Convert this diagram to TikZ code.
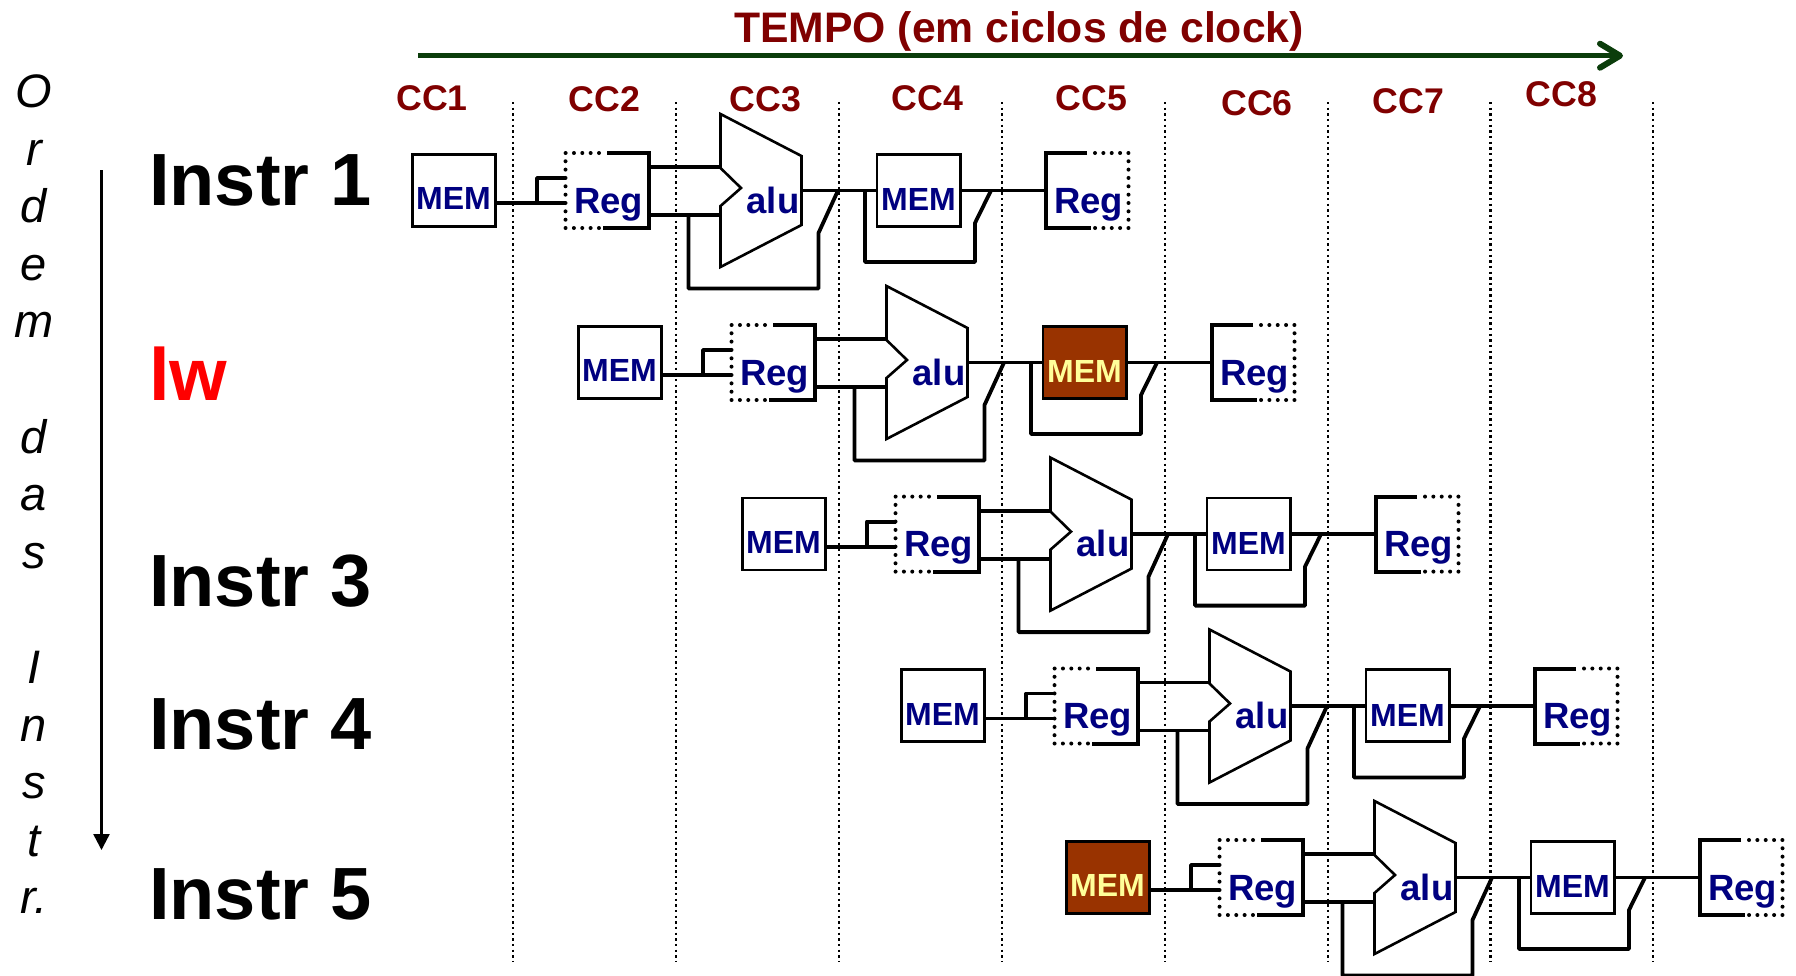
\documentclass[tikz,border=0pt]{standalone}
\usepackage{fontspec}
\setmainfont{Liberation Sans}
\usetikzlibrary{arrows.meta}
\definecolor{navytext}{HTML}{000080}
\definecolor{darkred}{HTML}{800000}
\definecolor{timegreen}{HTML}{0B3D0B}
\definecolor{hotfill}{HTML}{993300}
\definecolor{hottext}{HTML}{FFFF99}
\newcommand\sz[1]{\fontsize{#1}{#1}\selectfont}
\tikzset{
  boxbase/.style={draw=black,line width=2.8pt,inner sep=0pt,outer sep=0pt,minimum width=83.4pt,minimum height=72pt},
  memboxplain/.style={boxbase,fill=white},
  memboxhot/.style={boxbase,fill=hotfill},
  memtextplain/.style={anchor=base,inner sep=0pt,text=navytext,font=\sz{32}\bfseries},
  memtexthot/.style={anchor=base,inner sep=0pt,text=hottext,font=\sz{32}\bfseries},
  regbox/.style={inner sep=0pt,outer sep=0pt,minimum width=83pt,minimum height=75pt},
  regtext/.style={anchor=base,inner sep=0pt,text=navytext,font=\sz{36.5}\bfseries},
  alutext/.style={anchor=base,inner sep=0pt,text=navytext,font=\sz{36.5}\bfseries},
  regsolid/.style={line width=4pt,line join=miter},
  regdots/.style={line width=4pt,line cap=round,dash pattern=on 0pt off 8.35pt},
  wire/.style={line width=3.8pt,line join=round},
  wirethick/.style={line width=3.8pt,line join=round},
  alushape/.style={draw=black,line width=2.6pt,fill=white,line join=miter},
  divider/.style={line width=2.4pt,dash pattern=on 2.4pt off 3.25pt},
  cclabel/.style={anchor=base,inner sep=0pt,text=darkred,font=\sz{35.7}\bfseries},
  instr/.style={anchor=base west,inner sep=0pt,font=\sz{74}\bfseries},
  sideletter/.style={anchor=base,inner sep=0pt,font=\sz{47}\itshape},
}
% one pipeline row: #1 id, #2 dx, #3 dy, #4 first MEM look, #5 second MEM look
\newcommand\pipeRow[5]{%
\begin{scope}[shift={(#2,#3)}]
  \node[membox#4] (#1ma) at (454,190.3) {};
  \node[memtext#4] (#1mat) at (453.5,209.5) {MEM};
  \node[regbox] (#1ra) at (607,190.5) {};
  \node[regtext] (#1rat) at (608.5,213) {Reg};
  \coordinate (#1ja) at (537,203);
  \coordinate (#1jb) at (537,178);
  \draw[wire] (#1ma.east |- #1ja) -- (#1ra.west |- #1ja);
  \draw[wire] (#1ja) -- (#1jb) -- (#1ra.west |- #1jb);
  \draw[regdots] ([xshift=-8pt]#1ra.north) -- (#1ra.north west) -- (#1ra.south west) -- ([xshift=-5pt]#1ra.south);
  \draw[regsolid] (#1ra.north) -- (#1ra.north east) -- (#1ra.south east) -- ([xshift=-4pt]#1ra.south);
  \coordinate (#1ut) at (720,167);
  \coordinate (#1ub) at (720,215);
  \coordinate (#1uo) at (801,190.5);
  \coordinate (#1lj) at (688.5,215);
  \draw[alushape] (720.5,114) -- (801.5,156) -- (801.5,225) -- (720.5,267) -- (720.5,206) -- (741,188) -- (720.5,168) -- cycle;
  \node[alutext] (#1ut2) at (773,213) {alu};
  \draw[wirethick] (#1ra.east |- #1ut) -- (#1ut);
  \draw[wirethick] (#1ra.east |- #1ub) -- (#1ub);
  \draw[wirethick] (#1lj) -- (688.5,288.5) -- (818.5,288.5) -- (818.5,233) -- (838,190.5);
  \node[membox#5] (#1mb) at (918.7,190.3) {};
  \node[memtext#5] (#1mbt) at (918.5,210.5) {MEM};
  \node[regbox] (#1rb) at (1087,190.5) {};
  \node[regtext] (#1rbt) at (1088.5,213) {Reg};
  \draw[wirethick] (#1uo) -- (#1mb.west |- #1uo);
  \draw[wire] (#1mb.east |- #1uo) -- (#1rb.west |- #1uo);
  \draw[wire] (865,190.5) -- (865,262) -- (975,262) -- (975,223) -- (991,190.5);
  \draw[regdots] ([xshift=8pt]#1rb.north) -- (#1rb.north east) -- (#1rb.south east) -- ([xshift=6pt]#1rb.south);
  \draw[regsolid] (#1rb.north) -- (#1rb.north west) -- (#1rb.south west) -- ([xshift=4pt]#1rb.south);
\end{scope}}
\begin{document}
\begin{tikzpicture}[x=1pt,y=-1pt]
\useasboundingbox (0,0) rectangle (1796,975);
\clip (0,0) rectangle (1796,975);
\fill[white] (0,0) rectangle (1796,975);
% dividers
\foreach \n/\x in {a/513,b/676,c/839,d/1002,e/1165,f/1328,g/1490.5,h/1653}{
  \coordinate (top\n) at (\x,102);
  \coordinate (bot\n) at (\x,961);
  \draw[divider] (top\n) -- (bot\n);
}
% time axis
\node[anchor=base,inner sep=0pt,text=darkred,font=\sz{42.7}\bfseries] (tempo) at (1019,42) {TEMPO (em ciclos de clock)};
\coordinate (timeA) at (418,55.7);
\coordinate (timeB) at (1623,55.7);
\draw[timegreen,line width=5.5pt,-{Straight Barb[length=20pt,width=24pt,line width=6pt,round]}] (timeA) -- (timeB);
\node[cclabel] (cc1) at (432,110) {CC1};
\node[cclabel] (cc2) at (604.5,111.7) {CC2};
\node[cclabel] (cc3) at (765.4,111.7) {CC3};
\node[cclabel] (cc4) at (927.5,110) {CC4};
\node[cclabel] (cc5) at (1091.6,110) {CC5};
\node[cclabel] (cc6) at (1257,115) {CC6};
\node[cclabel] (cc7) at (1408.5,113) {CC7};
\node[cclabel] (cc8) at (1561.2,106) {CC8};
% order axis
\coordinate (ordA) at (101.5,170);
\coordinate (ordB) at (101.5,850);
\draw[line width=2.4pt,-{Triangle[length=16pt,width=16pt]}] (ordA) -- (ordB);
\foreach \n/\l/\k in {a/O/0,b/r/1,c/d/2,d/e/3,e/m/4,f/d/6,g/a/7,h/s/8,i/I/10,j/n/11,k/s/12,l/t/13,m/r./14}{
  \node[sideletter] (side\n) at (34,107.5+57.6*\k) {\l};
}
% instruction names
\node[instr] (i1) at (149,205) {Instr 1};
\node[instr,text=red] (i2) at (149,400.5) {lw};
\node[instr] (i3) at (149,606.7) {Instr 3};
\node[instr] (i4) at (149,749) {Instr 4};
\node[instr] (i5) at (149,919) {Instr 5};
% pipeline rows
\pipeRow{pa}{0}{0}{plain}{plain}
\pipeRow{pb}{166}{172}{plain}{hot}
\pipeRow{pc}{330}{343.6}{plain}{plain}
\pipeRow{pd}{489}{515.5}{plain}{plain}
\pipeRow{pe}{654}{687}{hot}{plain}
\end{tikzpicture}
\end{document}
